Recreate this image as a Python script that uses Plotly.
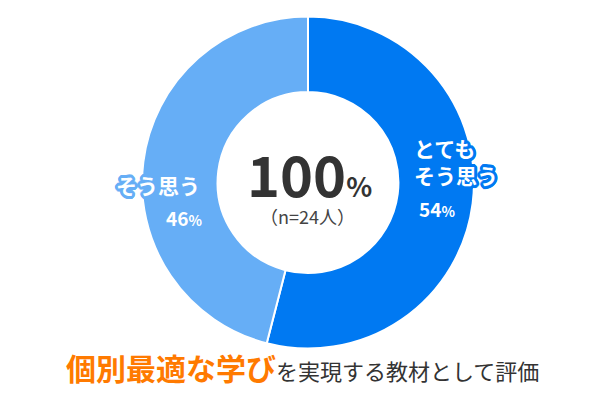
import math
import plotly.graph_objects as go

# data
categories = ['とても<br>そう思う', 'そう思う']
values = [54, 46]
colors = ['#0079F2', '#66AEF6']
total_pct = 100
n_respondents = 24
title_strong = '個別最適な学び'
title_rest = 'を実現する教材として評価'

FONT = 'Noto Sans CJK JP'


def halo(color, w=3, steps=16):
    # fake a round text outline with a ring of css shadows
    parts = []
    for i in range(steps):
        a = 2 * math.pi * i / steps
        parts.append(f'{w * math.cos(a):.1f}px {w * math.sin(a):.1f}px 0 {color}')
    return ', '.join(parts)


fig = go.Figure(go.Pie(
    labels=categories, values=values,
    hole=0.545, sort=False, direction='clockwise', rotation=0,
    marker=dict(colors=colors, line=dict(color='white', width=2)),
    textinfo='none', hoverinfo='none', showlegend=False,
    domain=dict(x=[0.2233, 0.7767], y=[0.1695, 0.979]),
))

# center total
fig.add_annotation(
    x=0.503, y=0.598, xref='paper', yref='paper', showarrow=False,
    text=f'<b>{total_pct}</b><span style="font-size:27px"><b>%</b></span>',
    font=dict(family=FONT, size=56, color='#333333'),
)
fig.add_annotation(
    x=0.499, y=0.492, xref='paper', yref='paper', showarrow=False,
    text=f'（n={n_respondents}人）',
    font=dict(family=FONT, size=18, color='#444444'),
)

# slice labels
fig.add_annotation(
    x=0.82, y=0.625, xref='paper', yref='paper', showarrow=False, align='left',
    text=f'<b>{categories[0]}</b>',
    font=dict(family=FONT, size=21, color='white', shadow=halo(colors[0])),
)
fig.add_annotation(
    x=0.748, y=0.512, xref='paper', yref='paper', showarrow=False,
    text=f'<b>{values[0]}</b><span style="font-size:14px"><b>%</b></span>',
    font=dict(family=FONT, size=19, color='white'),
)
fig.add_annotation(
    x=0.177, y=0.568, xref='paper', yref='paper', showarrow=False,
    text=f'<b>{categories[1]}</b>',
    font=dict(family=FONT, size=21, color='white', shadow=halo(colors[1])),
)
fig.add_annotation(
    x=0.26, y=0.49, xref='paper', yref='paper', showarrow=False,
    text=f'<b>{values[1]}</b><span style="font-size:14px"><b>%</b></span>',
    font=dict(family=FONT, size=19, color='white'),
)

# title below
fig.add_annotation(
    x=0.49, y=0.066, xref='paper', yref='paper', showarrow=False,
    text=(f'<span style="color:#FF7A00;font-size:30px"><b>{title_strong}</b></span>'
          f'<span style="color:#333333;font-size:22px">{title_rest}</span>'),
    font=dict(family=FONT, size=22),
)

fig.update_layout(
    width=600, height=410,
    margin=dict(l=0, r=0, t=0, b=0),
    paper_bgcolor='white', plot_bgcolor='white',
)
fig.write_html('out.html')
